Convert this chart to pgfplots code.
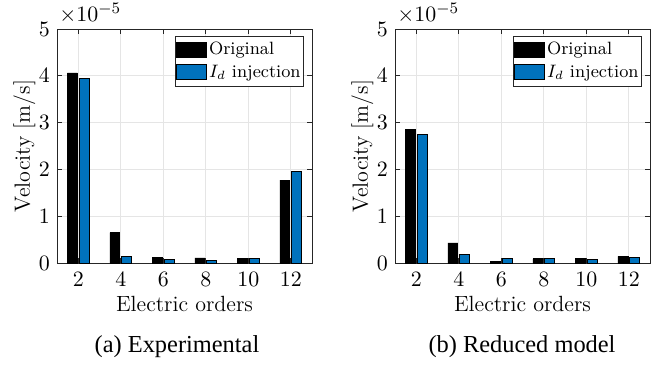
\documentclass[border=0pt]{standalone}
\usepackage{pgfplots}
\pgfplotsset{compat=1.18}
\usepackage{fontspec}
\newfontfamily\timesf{Liberation Serif}
\definecolor{mblue}{rgb}{0,0.447,0.741}
\definecolor{axgray}{gray}{0.15}
\pgfplotsset{
  mystyle/.style={
    scale only axis,
    width=127.5pt, height=117pt,
    xmin=1, xmax=13, ymin=0, ymax=5,
    xtick={2,4,6,8,10,12},
    ytick={0,1,2,3,4,5},
    ybar, 
    bar width=0.47,
    grid=major,
    major grid style={gray!20, line width=0.4pt},
    tick align=inside,
    major tick length=2.5pt,
    tick style={axgray, line width=0.4pt},
    axis line style={axgray, line width=0.5pt},
    ticklabel style={font=\fontsize{11}{13}\selectfont},
    xticklabel style={yshift=-1pt},
    xlabel={Electric orders},
    ylabel={Velocity [m/s]},
    label style={font=\fontsize{11}{13}\selectfont},
    xlabel style={yshift=2pt},
    ylabel style={yshift=-5pt},
    legend cell align=left,
    legend style={at={(rel axis cs:1,1)}, anchor=north east, xshift=-4pt, yshift=-3.5pt,
      draw=axgray, line width=0.4pt, inner xsep=0.5pt, inner ysep=1pt, row sep=-0.5pt,
      nodes={inner xsep=1pt},
      font=\fontsize{8.9}{11}\selectfont},
    legend image code/.code={\draw[#1, line width=0.4pt] (0pt,-3.6pt) rectangle (15pt,4pt);},
  },
  orig/.style={fill=black, draw=black, line width=0.3pt, bar shift=-0.28},
  idinj/.style={fill=mblue, draw=black, line width=0.3pt, bar shift=0.28},
}
\begin{document}
\begin{tikzpicture}
\path[use as bounding box] (0,0) rectangle (329.5pt,182.5pt);
\begin{axis}[mystyle, name=ax1, at={(28.5pt,51pt)}, anchor=south west]
\addplot[orig] coordinates {(2,4.06) (4,0.65) (6,0.12) (8,0.11) (10,0.10) (12,1.77)};
\addplot[idinj] coordinates {(2,3.94) (4,0.14) (6,0.07) (8,0.06) (10,0.10) (12,1.96)};
\legend{Original, $I_d$ injection}
\end{axis}
\begin{axis}[mystyle, name=ax2, at={(197.5pt,51pt)}, anchor=south west]
\addplot[orig] coordinates {(2,2.85) (4,0.43) (6,0.035) (8,0.09) (10,0.09) (12,0.14)};
\addplot[idinj] coordinates {(2,2.74) (4,0.18) (6,0.10) (8,0.09) (10,0.08) (12,0.12)};
\legend{Original, $I_d$ injection}
\end{axis}
\node[anchor=south west, inner sep=0pt, font=\fontsize{11}{13}\selectfont] at ([xshift=1pt,yshift=2.5pt]ax1.north west) {$\times10^{-5}$};
\node[anchor=south west, inner sep=0pt, font=\fontsize{11}{13}\selectfont] at ([xshift=1pt,yshift=2.5pt]ax2.north west) {$\times10^{-5}$};
\node[font=\timesf\fontsize{12.2}{14}\selectfont] at (88.5pt,9pt) {(a) Experimental};
\node[font=\timesf\fontsize{12.2}{14}\selectfont] at (261pt,9pt) {(b) Reduced model};
\end{tikzpicture}
\end{document}
